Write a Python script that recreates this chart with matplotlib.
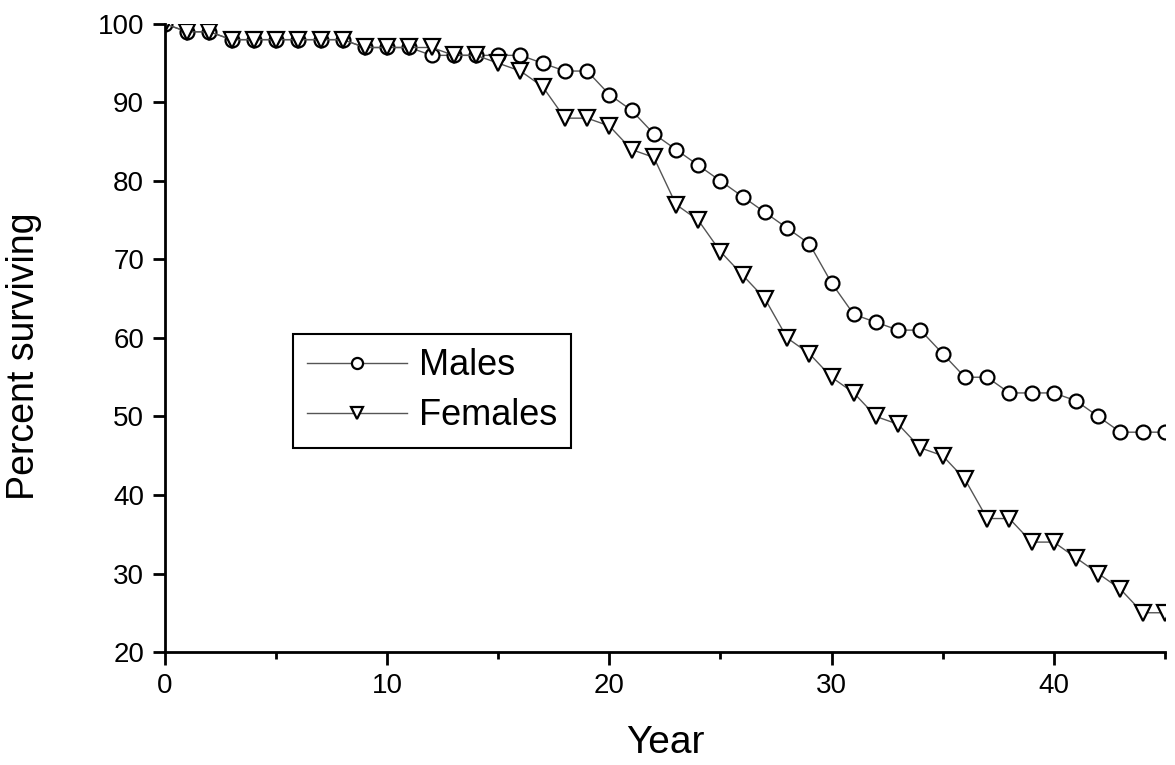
import matplotlib.pyplot as plt
from matplotlib.ticker import MultipleLocator

plt.rcParams['font.family'] = ['Liberation Sans', 'DejaVu Sans']

# 데이터
years = list(range(0, 46))
males = [100, 99, 99, 98, 98, 98, 98, 98, 98, 97, 97, 97, 96, 96, 96, 96,
         96, 95, 94, 94, 91, 89, 86, 84, 82, 80, 78, 76, 74, 72, 67, 63,
         62, 61, 61, 58, 55, 55, 53, 53, 53, 52, 50, 48, 48, 48]
females = [100, 99, 99, 98, 98, 98, 98, 98, 98, 97, 97, 97, 97, 96, 96, 95,
           94, 92, 88, 88, 87, 84, 83, 77, 75, 71, 68, 65, 60, 58, 55, 53,
           50, 49, 46, 45, 42, 37, 37, 34, 34, 32, 30, 28, 25, 25]

fig = plt.figure(figsize=(11.75, 7.65), dpi=100)
ax = fig.add_axes([0.1404, 0.1477, 0.851, 0.821])

ax.plot(years, males, color='#555555', lw=1, marker='o', ms=10,
        mfc='white', mec='black', mew=1.6, label='Males')
ax.plot(years, females, color='#555555', lw=1, marker='v', ms=11,
        mfc='white', mec='black', mew=1.6, label='Females')

ax.set_xlim(0, 45)
ax.set_ylim(20, 100)
ax.xaxis.set_major_locator(MultipleLocator(10))
ax.xaxis.set_minor_locator(MultipleLocator(5))
ax.yaxis.set_major_locator(MultipleLocator(10))

for s in ['top', 'right']:
    ax.spines[s].set_visible(False)
for s in ['left', 'bottom']:
    ax.spines[s].set_linewidth(2)

ax.tick_params(which='major', direction='out', length=9, width=2,
               labelsize=20, pad=6)
ax.tick_params(which='minor', direction='out', length=5, width=2)

ax.set_xlabel('Year', fontsize=28, labelpad=19)
ax.set_ylabel('Percent surviving', fontsize=27)
ax.yaxis.set_label_coords(-0.123, 0.471)

leg = ax.legend(loc='lower left', bbox_to_anchor=(0.128, 0.325),
                borderaxespad=0, fontsize=26, fancybox=False, framealpha=1,
                edgecolor='black', handlelength=2.75, borderpad=0.4,
                handletextpad=0.33, labelspacing=0.42, markerscale=0.8)
leg.get_frame().set_linewidth(1.5)

plt.savefig('out.png', dpi=100)
